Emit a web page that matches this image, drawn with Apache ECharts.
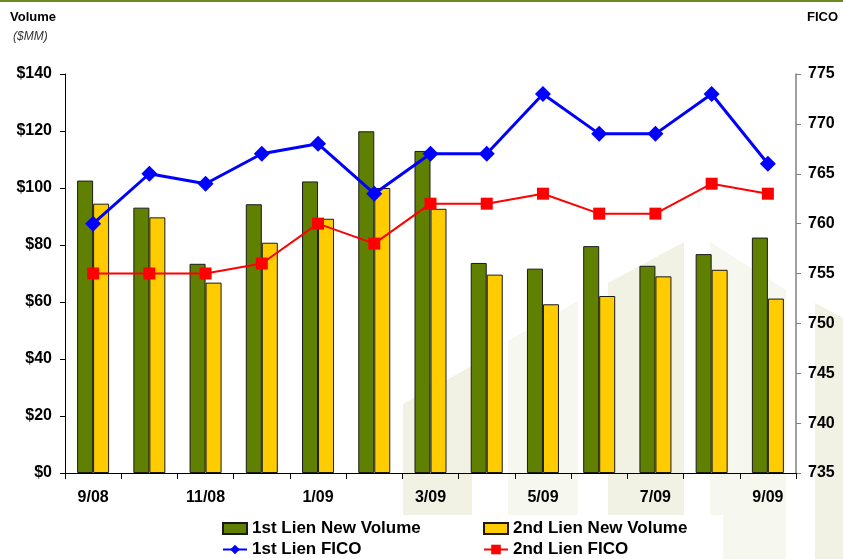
<!DOCTYPE html>
<html>
<head>
<meta charset="utf-8">
<script src="https://cdn.jsdelivr.net/npm/echarts@6/dist/echarts.min.js"></script>
<style>
  html, body { margin: 0; padding: 0; background: #fff; }
  #chart { width: 843px; height: 559px; }
</style>
</head>
<body>
<div id="chart"></div>
<script>
// Monthly origination volume ($MM) and average FICO, 9/08 – 9/09
const months = ['9/08', '10/08', '11/08', '12/08', '1/09', '2/09', '3/09',
                '4/09', '5/09', '6/09', '7/09', '8/09', '9/09'];
const firstLienVolume  = [102.6, 93.1, 73.4, 94.3, 102.3, 119.9, 113.0, 73.7, 71.7, 79.6, 72.7, 76.8, 82.6];
const secondLienVolume = [94.5, 89.7, 66.8, 80.8, 89.2, 100.0, 92.7, 69.6, 59.2, 62.1, 69.0, 71.3, 61.2];
const firstLienFico    = [760, 765, 764, 767, 768, 763, 767, 767, 773, 769, 769, 773, 766];
const secondLienFico   = [755, 755, 755, 756, 760, 758, 762, 762, 763, 761, 761, 764, 763];
const volumeTicks = { min: 0, max: 140, interval: 20 };
const ficoTicks   = { min: 735, max: 775, interval: 5 };

const FONT = '"Liberation Sans", Arial, sans-serif';
const chart = echarts.init(document.getElementById('chart'), null, { renderer: 'canvas' });

// faint stepped background shapes in the lower right
const shade = '#f1f2e3';
const shadeLight = '#f6f7ee';
const bgShapes = [
  [[403, 404], [472, 366], [472, 559], [403, 559]],
  [[508, 341], [578, 301], [578, 559], [508, 559]],
  [[608, 283], [684, 242], [684, 559], [608, 559]],
  [[710, 242], [786, 290], [786, 559], [710, 559]],
  [[815, 303], [843, 318], [843, 559], [815, 559]]
];
const graphics = [];
bgShapes.forEach((pts, i) => {
  graphics.push({
    type: 'polygon', silent: true, z: -10,
    shape: { points: pts },
    style: { fill: i % 2 ? shadeLight : shade }
  });
});
graphics.push({
  type: 'rect', silent: true, z: -5,
  shape: { x: 205, y: 515, width: 518, height: 44 },
  style: { fill: '#ffffff' }
});
graphics.push({
  type: 'line', silent: true,
  shape: { x1: 0, y1: 1, x2: 843, y2: 1 },
  style: { stroke: '#6b8a1e', lineWidth: 2 }
});

// legend laid out as two rows with aligned columns
const legendFontSize = 17;
const legendText = { fontFamily: FONT, fontSize: legendFontSize, fontWeight: 'bold', color: '#000' };
const legendLeft = 222, legendCol2 = 482, legendIconW = 24;
const measureCtx = document.createElement('canvas').getContext('2d');
measureCtx.font = 'bold ' + legendFontSize + 'px ' + FONT;
function gapAfter(label) {
  return Math.max(10, legendCol2 - (legendLeft + legendIconW + 5 + measureCtx.measureText(label).width));
}

chart.setOption({
  animation: false,
  backgroundColor: '#ffffff',
  graphic: graphics,
  title: [
    { text: 'Volume', left: 10, top: 11, padding: 0,
      textStyle: { fontFamily: FONT, fontSize: 13, fontWeight: 'bold', color: '#000' } },
    { text: '($MM)', left: 13, top: 31, padding: 0,
      textStyle: { fontFamily: FONT, fontSize: 12, fontWeight: 'normal', fontStyle: 'italic', color: '#333' } },
    { text: 'FICO', right: 5, top: 11, padding: 0,
      textStyle: { fontFamily: FONT, fontSize: 13, fontWeight: 'bold', color: '#000' } }
  ],
  legend: [
    {
      data: [
        { name: '1st Lien New Volume', icon: 'rect' },
        { name: '2nd Lien New Volume', icon: 'rect' }
      ],
      left: legendLeft, top: 520, orient: 'horizontal', padding: 0,
      itemWidth: legendIconW, itemHeight: 11, itemGap: gapAfter('1st Lien New Volume'),
      textStyle: legendText, selectedMode: false
    },
    {
      data: ['1st Lien FICO', '2nd Lien FICO'],
      left: legendLeft, top: 541, orient: 'horizontal', padding: 0,
      itemWidth: legendIconW, itemHeight: 12, itemGap: gapAfter('1st Lien FICO'),
      textStyle: legendText, selectedMode: false
    }
  ],
  grid: { left: 65, right: 47, top: 74, bottom: 86, containLabel: false },
  xAxis: {
    type: 'category',
    data: months,
    boundaryGap: true,
    axisLine: { lineStyle: { color: '#000', width: 1 } },
    axisTick: { show: true, interval: 0, length: 6, lineStyle: { color: '#000' } },
    axisLabel: { interval: 1, margin: 17, fontFamily: FONT, fontSize: 16, fontWeight: 'bold', color: '#000' },
    splitLine: { show: false }
  },
  yAxis: [
    {
      type: 'value', position: 'left',
      min: volumeTicks.min, max: volumeTicks.max, interval: volumeTicks.interval,
      axisLine: { show: true, lineStyle: { color: '#000', width: 1 } },
      axisTick: { show: true, inside: false, length: 5, lineStyle: { color: '#000' } },
      axisLabel: { margin: 13, formatter: v => '$' + v, fontFamily: FONT, fontSize: 16, fontWeight: 'bold', color: '#000' },
      splitLine: { show: false }
    },
    {
      type: 'value', position: 'right',
      min: ficoTicks.min, max: ficoTicks.max, interval: ficoTicks.interval,
      axisLine: { show: true, lineStyle: { color: '#808080', width: 1.5 } },
      axisTick: { show: true, inside: false, length: 5, lineStyle: { color: '#808080' } },
      axisLabel: { margin: 12, fontFamily: FONT, fontSize: 16, fontWeight: 'bold', color: '#000' },
      splitLine: { show: false }
    }
  ],
  series: [
    {
      name: '1st Lien New Volume', type: 'bar', yAxisIndex: 0,
      data: firstLienVolume, barWidth: 16, barGap: '0%',
      itemStyle: { color: '#5f8000', borderColor: '#1a1a1a', borderWidth: 1 },
      z: 2
    },
    {
      name: '2nd Lien New Volume', type: 'bar', yAxisIndex: 0,
      data: secondLienVolume, barWidth: 16, barGap: '0%',
      itemStyle: { color: '#ffcc00', borderColor: '#1a1a1a', borderWidth: 1 },
      z: 2
    },
    {
      name: '1st Lien FICO', type: 'line', yAxisIndex: 1,
      data: firstLienFico,
      symbol: 'diamond', symbolSize: 16,
      lineStyle: { color: '#0000ff', width: 3 },
      itemStyle: { color: '#0000ff' },
      z: 4
    },
    {
      name: '2nd Lien FICO', type: 'line', yAxisIndex: 1,
      data: secondLienFico,
      symbol: 'rect', symbolSize: 12,
      lineStyle: { color: '#ff0000', width: 2 },
      itemStyle: { color: '#ff0000' },
      z: 3
    }
  ]
});
</script>
</body>
</html>
